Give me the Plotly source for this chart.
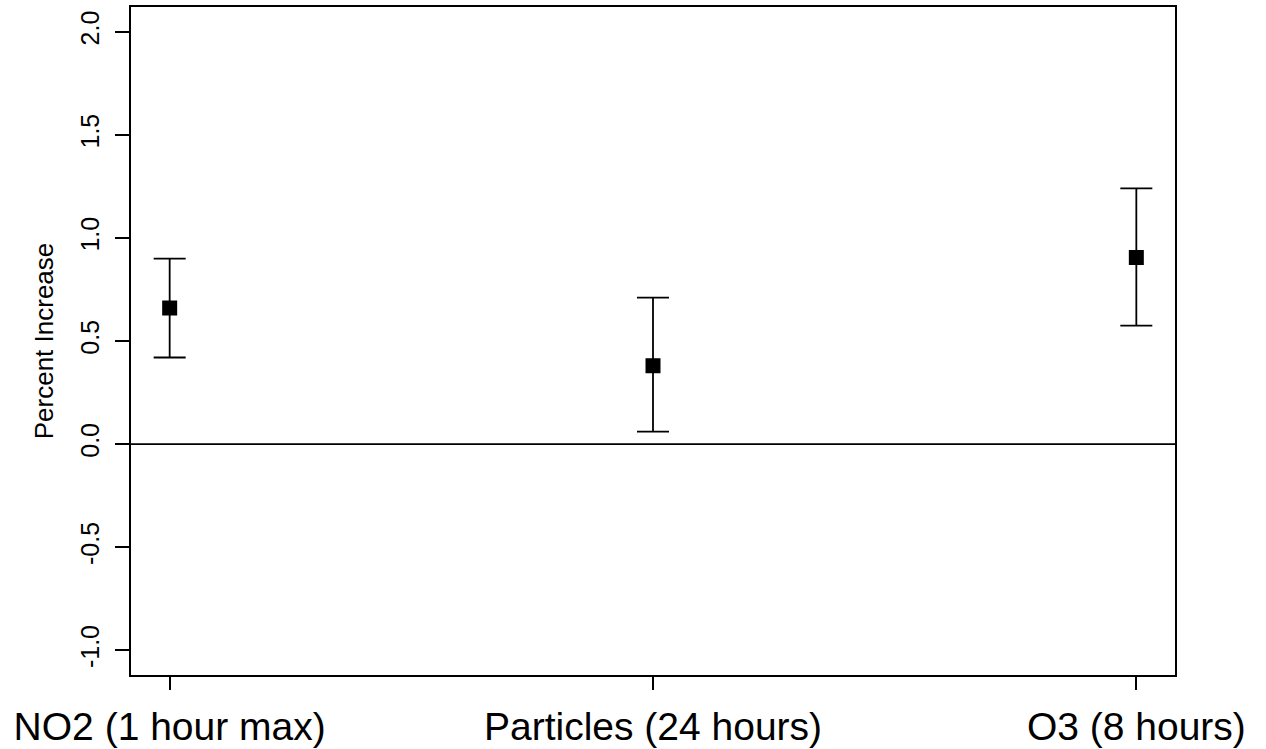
import plotly.graph_objects as go

categories = ["NO2 (1 hour max)", "Particles (24 hours)", "O3 (8 hours)"]
estimate = [0.66, 0.38, 0.905]
lower = [0.42, 0.06, 0.575]
upper = [0.90, 0.71, 1.24]
y_ticks = [-1.0, -0.5, 0.0, 0.5, 1.0, 1.5, 2.0]
y_tick_labels = ["-1.0", "-0.5", "0.0", "0.5", "1.0", "1.5", "2.0"]

xpos = list(range(1, len(categories) + 1))
err_plus = [u - e for u, e in zip(upper, estimate)]
err_minus = [e - l for e, l in zip(estimate, lower)]

FONT = "Liberation Sans, Arial, sans-serif"

fig = go.Figure()
fig.add_trace(go.Scatter(
    x=xpos, y=estimate, mode="markers",
    marker=dict(symbol="square", size=15, color="black", line=dict(width=0)),
    error_y=dict(type="data", symmetric=False, array=err_plus, arrayminus=err_minus,
                 color="black", thickness=1.8, width=16),
    showlegend=False, hoverinfo="skip",
))
fig.add_hline(y=0, line=dict(color="black", width=1.8))

fig.update_layout(
    width=1266, height=749,
    margin=dict(l=131, r=91, t=7, b=74, pad=0, autoexpand=False),
    paper_bgcolor="white", plot_bgcolor="white",
    font=dict(family=FONT, color="black"),
    showlegend=False,
)
fig.update_xaxes(
    range=[0.92, 3.08], tickvals=xpos, ticktext=categories,
    tickfont=dict(size=39, family=FONT, color="black"),
    ticks="outside", ticklen=13, tickwidth=1.8, tickcolor="black",
    showline=True, linecolor="black", linewidth=1.8, mirror=True,
    showgrid=False, zeroline=False, ticklabelstandoff=3,
)
fig.update_yaxes(
    range=[-1.12, 2.12], tickvals=y_ticks, ticktext=y_tick_labels,
    tickangle=-90, tickfont=dict(size=25, family=FONT, color="black"),
    ticks="outside", ticklen=14, tickwidth=1.8, tickcolor="black",
    showline=True, linecolor="black", linewidth=1.8, mirror=True,
    showgrid=False, zeroline=False, ticklabelstandoff=6,
    title=dict(text="Percent Increase", font=dict(size=26, family=FONT, color="black"), standoff=15),
)

fig.write_html("out.html", config={"displayModeBar": False},
               post_script="document.body.style.margin='0';document.body.style.padding='0';")
